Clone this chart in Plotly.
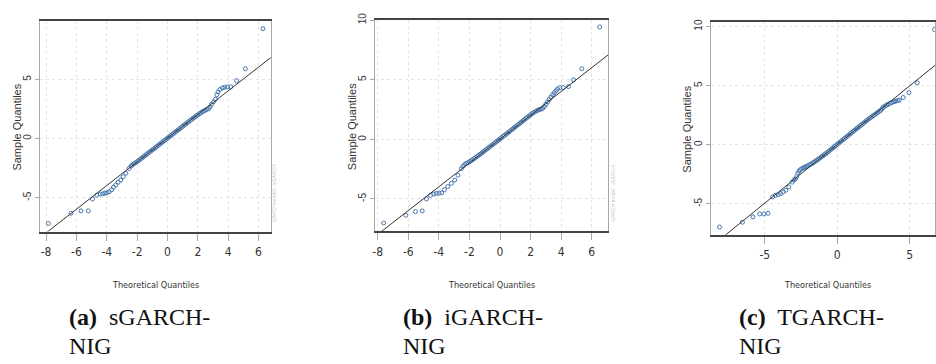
import plotly.graph_objects as go

W, H = 936, 364

# Normal QQ plots of standardized residuals for three GARCH-NIG fits
theo_a = [-7.85, -6.36, -5.70, -5.22, -4.94, -4.65, -4.43, -4.27, -4.12, -3.99, -3.84, -3.68,
          -3.56, -3.40, -3.25, -3.08, -2.92, -2.75, -2.53, -2.40, -2.31, -2.20, -2.09,
          -2.0, -1.9, -1.8, -1.7, -1.6, -1.5, -1.4, -1.3, -1.2, -1.1, -1.0, -0.9, -0.8, -0.7,
          -0.6, -0.5, -0.4, -0.3, -0.2, -0.1, 0.0, 0.1, 0.2, 0.3, 0.4, 0.5, 0.6, 0.7, 0.8, 0.9,
          1.0, 1.1, 1.2, 1.3, 1.4, 1.5, 1.6, 1.7, 1.8, 1.9, 2.0, 2.1, 2.2, 2.3, 2.4, 2.5, 2.6,
          2.70, 2.80, 2.90, 3.03, 3.16, 3.25, 3.33, 3.46, 3.62, 3.77, 3.95, 4.17, 4.55, 5.13, 6.29]
samp_a = [-7.17, -6.31, -6.11, -6.11, -5.11, -4.78, -4.69, -4.67, -4.61, -4.58, -4.50, -4.33,
          -4.11, -3.92, -3.69, -3.50, -3.22, -2.94, -2.53, -2.33, -2.22, -2.12, -2.04,
          -1.95, -1.86, -1.76, -1.66, -1.56, -1.46, -1.36, -1.26, -1.16, -1.06, -0.96, -0.87,
          -0.77, -0.67, -0.57, -0.47, -0.37, -0.27, -0.17, -0.07, 0.03, 0.13, 0.23, 0.33, 0.43,
          0.53, 0.63, 0.73, 0.83, 0.93, 1.03, 1.13, 1.23, 1.33, 1.43, 1.53, 1.63, 1.72, 1.82,
          1.91, 2.00, 2.09, 2.18, 2.26, 2.33, 2.40, 2.46,
          2.53, 2.66, 2.89, 3.10, 3.31, 3.70, 3.94, 4.14, 4.28, 4.33, 4.36, 4.37, 4.89, 5.89, 9.28]

theo_b = [-7.61, -6.16, -5.53, -5.09, -4.81, -4.55, -4.33, -4.16, -3.98, -3.81, -3.64, -3.42,
          -3.18, -2.96, -2.75, -2.53, -2.42, -2.31, -2.20,
          -2.1, -2.0, -1.9, -1.8, -1.7, -1.6, -1.5, -1.4, -1.3, -1.2, -1.1, -1.0, -0.9, -0.8,
          -0.7, -0.6, -0.5, -0.4, -0.3, -0.2, -0.1, 0.0, 0.1, 0.2, 0.3, 0.4, 0.5, 0.6, 0.7, 0.8,
          0.9, 1.0, 1.1, 1.2, 1.3, 1.4, 1.5, 1.6, 1.7, 1.8, 1.9, 2.0, 2.1, 2.2, 2.3, 2.4, 2.5, 2.6,
          2.70, 2.79, 2.90, 3.00, 3.11, 3.22, 3.33, 3.44, 3.55, 3.66, 3.76, 3.92, 4.13, 4.48,
          4.81, 5.35, 6.52]
samp_b = [-7.02, -6.37, -6.07, -6.01, -5.00, -4.70, -4.59, -4.54, -4.51, -4.49, -4.23, -3.96,
          -3.69, -3.42, -3.01, -2.46, -2.26, -2.10, -2.02,
          -1.96, -1.88, -1.80, -1.71, -1.62, -1.53, -1.44, -1.34, -1.25, -1.15, -1.05, -0.95,
          -0.85, -0.75, -0.66, -0.56, -0.46, -0.36, -0.26, -0.16, -0.06, 0.04, 0.14, 0.24, 0.34,
          0.44, 0.54, 0.64, 0.74, 0.84, 0.94, 1.05, 1.15, 1.25, 1.35, 1.45, 1.56, 1.66, 1.76,
          1.86, 1.96, 2.06, 2.16, 2.25, 2.33, 2.40, 2.46, 2.52,
          2.55, 2.60, 2.75, 2.95, 3.14, 3.35, 3.55, 3.75, 3.91, 4.08, 4.23, 4.34, 4.36, 4.43,
          5.00, 5.93, 9.43]

theo_c = [-8.12, -6.54, -5.81, -5.35, -5.06, -4.78, -4.46, -4.26, -4.07, -3.91, -3.73, -3.55,
          -3.34, -3.11, -2.99, -2.88, -2.80, -2.72, -2.64, -2.55, -2.45, -2.35,
          -2.3, -2.2, -2.1, -2.0, -1.9, -1.8, -1.7, -1.6, -1.5, -1.4, -1.3, -1.2, -1.1, -1.0,
          -0.9, -0.8, -0.7, -0.6, -0.5, -0.4, -0.3, -0.2, -0.1, 0.0, 0.1, 0.2, 0.3, 0.4, 0.5,
          0.6, 0.7, 0.8, 0.9, 1.0, 1.1, 1.2, 1.3, 1.4, 1.5, 1.6, 1.7, 1.8, 1.9, 2.0, 2.1, 2.2,
          2.3, 2.4, 2.5, 2.6, 2.7, 2.8, 2.9, 3.0,
          3.10, 3.18, 3.30, 3.41, 3.52, 3.64, 3.75, 3.87, 3.96, 4.05, 4.17, 4.28, 4.55, 4.94,
          5.51, 6.70]
samp_c = [-6.97, -6.56, -6.11, -5.86, -5.86, -5.81, -4.42, -4.28, -4.22, -4.14, -4.00, -3.86,
          -3.58, -3.17, -3.00, -2.89, -2.70, -2.40, -2.25, -2.12, -2.03, -1.97,
          -1.93, -1.88, -1.82, -1.76, -1.69, -1.62, -1.55, -1.47, -1.39, -1.31, -1.22, -1.13,
          -1.04, -0.95, -0.86, -0.76, -0.67, -0.57, -0.47, -0.37, -0.27, -0.17, -0.07, 0.03,
          0.13, 0.23, 0.33, 0.43, 0.53, 0.63, 0.73, 0.83, 0.93, 1.03, 1.13, 1.23, 1.33, 1.43,
          1.52, 1.62, 1.72, 1.82, 1.92, 2.02, 2.12, 2.21, 2.30, 2.38, 2.47, 2.56, 2.65, 2.74,
          2.83, 2.92,
          3.05, 3.18, 3.28, 3.36, 3.43, 3.50, 3.57, 3.64, 3.67, 3.69, 3.74, 3.78, 4.00, 4.42,
          5.25, 9.75]

# reference line (intercept, slope) through the quartiles
qqline_a = (0.03, 1.0)
qqline_b = (0.02, 1.0)
qqline_c = (0.02, 0.994)

x_ticks_ab = [-8, -6, -4, -2, 0, 2, 4, 6]
x_ticks_c = [-5, 0, 5]
y_ticks = [-5, 0, 5, 10]

model_names = ["sGARCH", "iGARCH", "TGARCH"]
caption_tags = ["(a)", "(b)", "(c)"]

# panel boxes in pixels: left, right, top, bottom
boxes = [(37, 269, 14, 229), (373.7, 608, 13.3, 228.7), (710.7, 936, 15.3, 232.3)]
x_ranges = [[-8.41, 6.81], [-8.17, 7.09], [-8.73, 6.74]]
y_ranges = [[-7.86, 9.95], [-7.72, 10.02], [-7.63, 10.39]]


def px(x):
    return x / W


def py(y):
    return 1 - y / H


fig = go.Figure()
narrow = "Liberation Sans Narrow, DejaVu Sans Condensed, Arial Narrow, sans-serif"
sans = "Liberation Sans, Arial, sans-serif"
serif = "Liberation Serif, Times New Roman, serif"

panels = [(theo_a, samp_a, qqline_a, x_ticks_ab),
          (theo_b, samp_b, qqline_b, x_ticks_ab),
          (theo_c, samp_c, qqline_c, x_ticks_c)]

for i, (tx, sy, (b0, b1), xt) in enumerate(panels):
    n = "" if i == 0 else str(i + 1)
    xr, yr = x_ranges[i], y_ranges[i]
    fig.add_trace(go.Scatter(
        x=tx, y=sy, mode="markers", xaxis="x" + n, yaxis="y" + n,
        marker=dict(symbol="circle-open", size=4, color="#4677b0", line=dict(width=1)),
        showlegend=False, hoverinfo="skip"))
    lx = [xr[0], xr[1]]
    fig.add_trace(go.Scatter(
        x=lx, y=[b0 + b1 * v for v in lx], mode="lines", xaxis="x" + n, yaxis="y" + n,
        line=dict(color="#333333", width=1), showlegend=False, hoverinfo="skip"))

    l, r, t, b = boxes[i]
    fig.update_layout(**{
        "xaxis" + n: dict(
            domain=[px(l), px(r)], range=xr, anchor="y" + n,
            tickvals=xt, ticktext=[str(v) for v in xt],
            showgrid=True, gridcolor="#e4e4e4", griddash="dot", gridwidth=1,
            zeroline=False, showline=True, linecolor="#444444", linewidth=2, mirror=True,
            ticks="outside", ticklen=7, tickcolor="#aaaaaa", tickwidth=1,
            ticklabelstandoff=1,
            tickfont=dict(family=narrow, size=12, color="#333333")),
        "yaxis" + n: dict(
            domain=[py(b), py(t)], range=yr, anchor="x" + n,
            tickvals=y_ticks, ticktext=[str(v) for v in y_ticks], tickangle=-90,
            showgrid=True, gridcolor="#e4e4e4", griddash="dot", gridwidth=1,
            zeroline=False, showline=True, linecolor="#a8a8a8", linewidth=1, mirror=True,
            ticks="outside", ticklen=4, tickcolor="#aaaaaa", tickwidth=1,
            tickfont=dict(family=sans, size=10, color="#333333")),
    })

annotations = []
ytitle_x = [14, 350, 687]
xtitle_x = [153, 491, 828]
side_x = [273, 613]
caption_x = [64, 400, 737]
for i in range(3):
    annotations.append(dict(
        x=px(ytitle_x[i]), y=py(122 if i < 2 else 125), xref="paper", yref="paper",
        text="Sample Quantiles", textangle=-90, showarrow=False,
        font=dict(family=sans, size=11, color="#333333"),
        xanchor="center", yanchor="middle"))
    annotations.append(dict(
        x=px(xtitle_x[i]), y=py(283), xref="paper", yref="paper",
        text="Theoretical Quantiles", showarrow=False,
        font=dict(family=narrow, size=9, color="#333333"),
        xanchor="center", yanchor="middle"))
    annotations.append(dict(
        x=px(caption_x[i]), y=py(316), xref="paper", yref="paper",
        text="<b>" + caption_tags[i] + "</b>  " + model_names[i] + "-", showarrow=False,
        font=dict(family=serif, size=24, color="#111111"),
        xanchor="left", yanchor="middle"))
    annotations.append(dict(
        x=px(caption_x[i]), y=py(346), xref="paper", yref="paper",
        text="NIG", showarrow=False,
        font=dict(family=serif, size=24, color="#111111"),
        xanchor="left", yanchor="middle"))
for i in range(2):
    annotations.append(dict(
        x=px(side_x[i]), y=py(190), xref="paper", yref="paper",
        text="GARCH model : " + model_names[i], textangle=-90, showarrow=False,
        font=dict(family=sans, size=5, color="#c8c8c8"),
        xanchor="center", yanchor="middle"))

fig.update_layout(
    width=W, height=H, margin=dict(l=0, r=0, t=0, b=0),
    paper_bgcolor="white", plot_bgcolor="white",
    annotations=annotations, showlegend=False)

fig.write_html("out.html", config={"displayModeBar": False})
